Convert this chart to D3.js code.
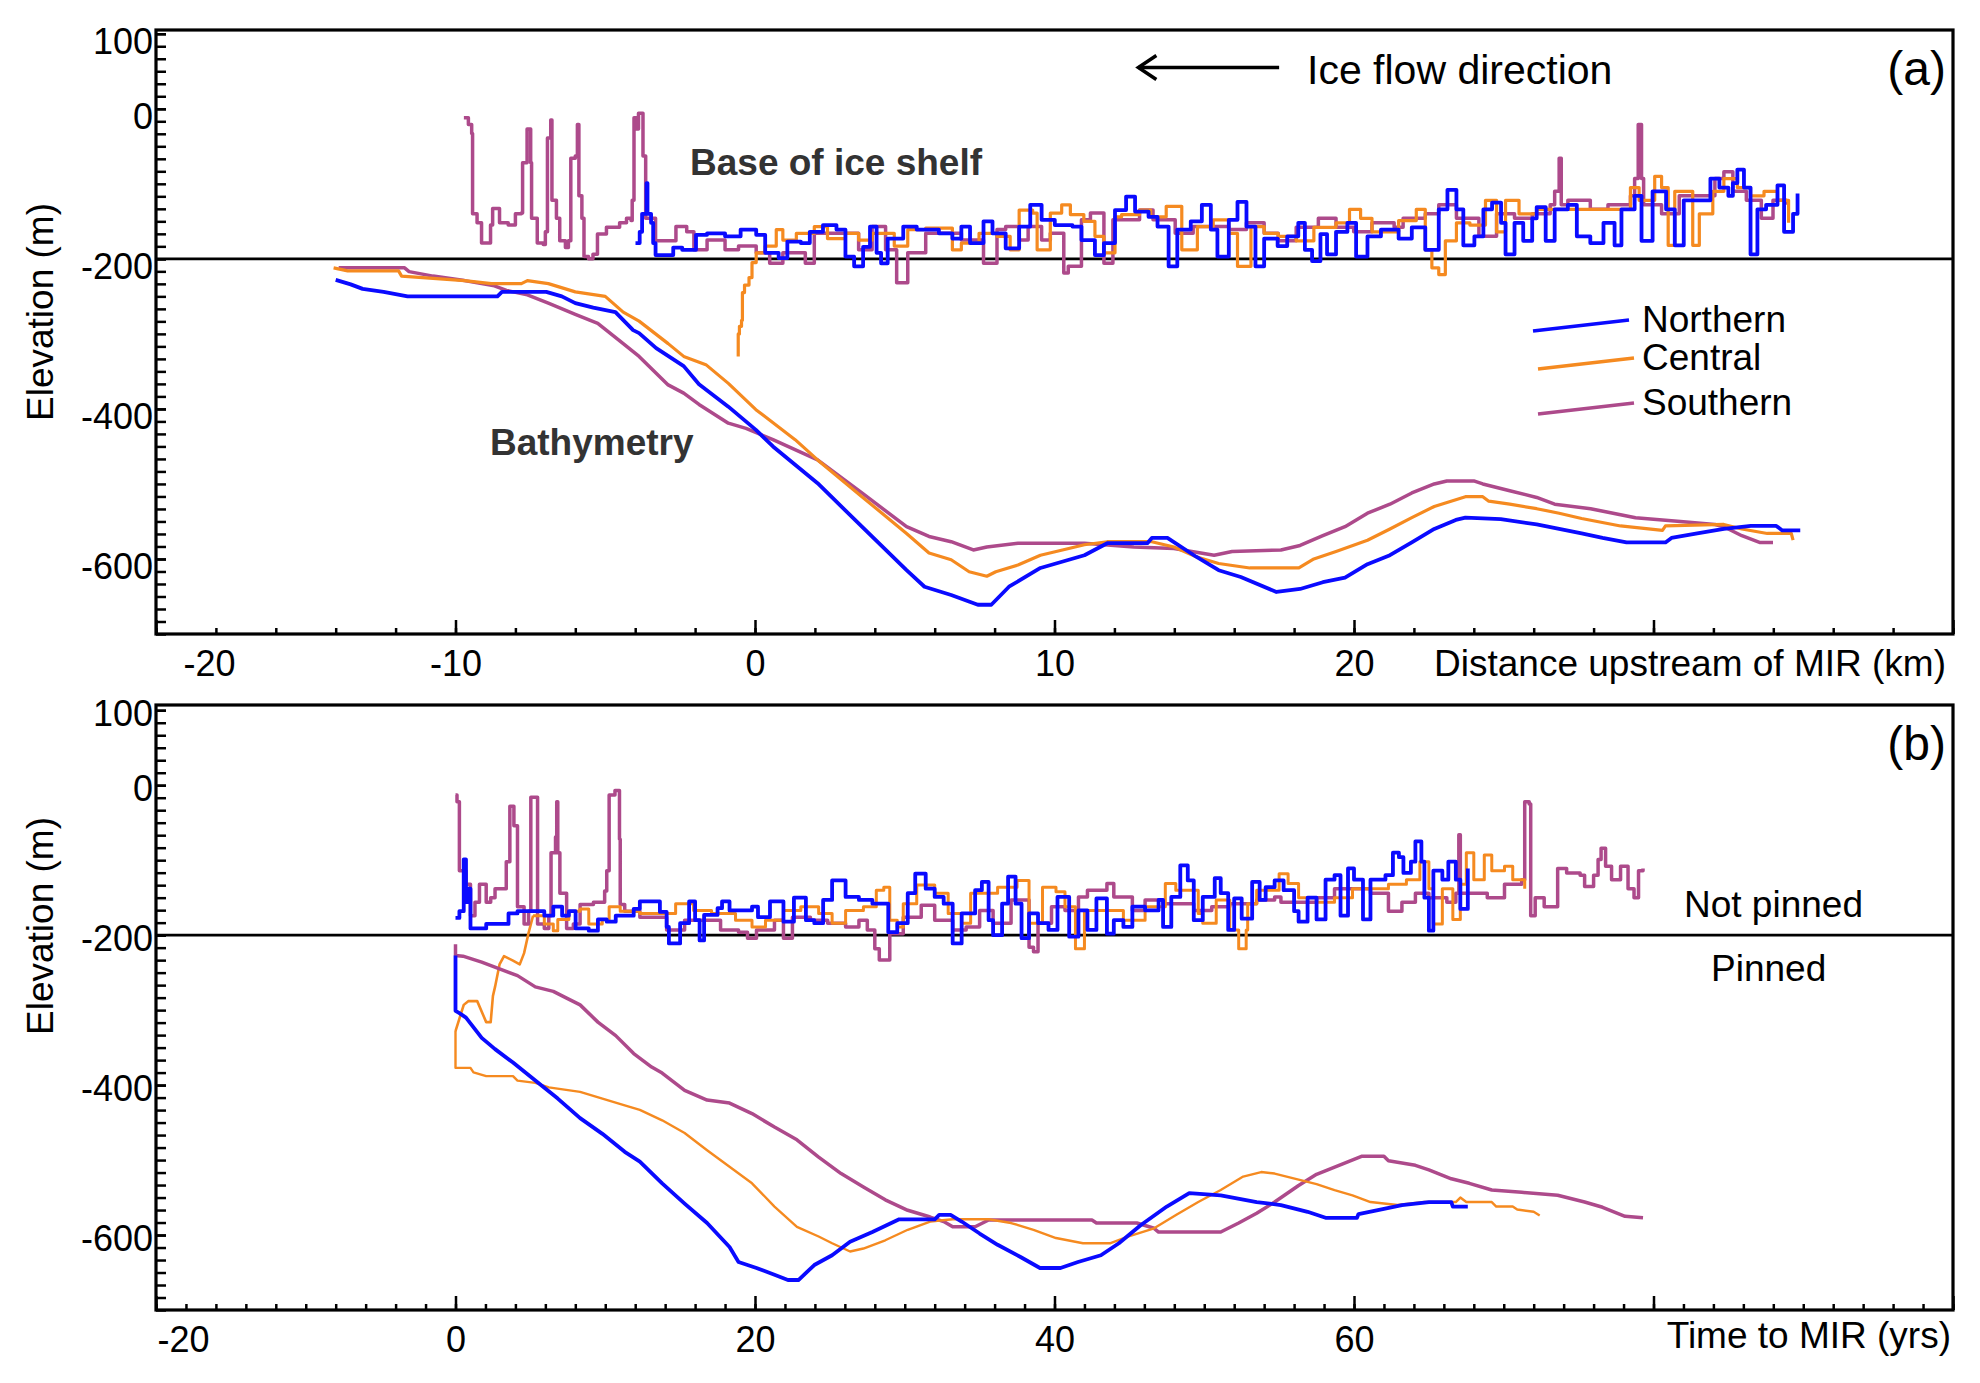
<!DOCTYPE html>
<html>
<head>
<meta charset="utf-8">
<script src="https://cdn.jsdelivr.net/npm/d3@7"></script>
<style>
    body { margin: 0; background: #fff; }
</style>
</head>
<body>
<div id="chart"></div>
<script>

// ---- panel (a): distance upstream of MIR (km) vs elevation (m) ----
var aNorthBed = [[-14.0,-228],[-13.5,-234],[-13.1,-240],[-12.4,-244],[-11.6,-250],[-8.6,-250],[-8.45,-244],[-6.97,-244],[-6.45,-250],[-6.0,-259],[-5.4,-265],[-4.66,-271],[-4.07,-295],[-3.87,-299],[-3.3,-319],[-2.38,-343],[-1.87,-367],[-0.89,-397],[0.03,-428],[0.6,-450],[2.09,-499],[3.57,-557],[5.06,-615],[5.66,-637],[6.55,-648],[7.44,-661],[7.89,-661],[8.48,-637],[9.53,-612],[11.0,-595],[11.76,-579],[13.1,-579],[13.25,-572],[13.77,-572],[14.73,-597],[15.48,-615],[16.22,-624],[17.41,-644],[18.2,-640],[18.96,-631],[19.7,-625],[20.45,-607],[21.2,-595],[21.93,-578],[22.68,-560],[23.4,-548],[23.72,-545],[24.9,-547],[26.1,-554],[26.85,-560],[27.6,-566],[28.3,-572],[29.1,-578],[30.4,-578],[30.6,-572],[31.46,-566],[32.35,-560],[33.25,-556],[34.1,-556],[34.3,-562],[34.9,-562]];
var aCentralBed = [[-14.07,-212],[-13.6,-216],[-11.9,-216],[-11.8,-223],[-9.7,-229],[-8.8,-233],[-7.8,-233],[-7.6,-229],[-6.9,-233],[-6.0,-244],[-5.0,-250],[-4.4,-271],[-3.87,-283],[-2.9,-313],[-2.38,-330],[-1.64,-341],[-0.89,-366],[0.03,-401],[1.34,-441],[2.09,-468],[3.57,-517],[5.06,-566],[5.81,-592],[6.55,-601],[7.15,-617],[7.74,-623],[8.04,-617],[8.78,-608],[9.53,-595],[11.0,-581],[11.76,-577],[13.25,-577],[13.99,-584],[14.73,-597],[15.48,-606],[16.52,-612],[18.16,-612],[18.66,-600],[19.4,-590],[20.45,-575],[21.2,-560],[21.93,-545],[22.68,-530],[23.4,-521],[23.72,-517],[24.3,-517],[24.5,-523],[25.2,-527],[26.1,-533],[26.85,-539],[27.6,-546],[28.9,-556],[30.3,-562],[30.4,-556],[32.35,-554],[32.95,-560],[33.8,-566],[34.6,-566],[34.66,-575]];
var aSouthBed = [[-13.9,-212],[-11.7,-212],[-11.55,-217],[-10.75,-223],[-9.7,-229],[-8.7,-236],[-8.3,-242],[-7.6,-248],[-6.9,-259],[-6.0,-274],[-5.25,-286],[-4.4,-313],[-3.87,-330],[-2.9,-368],[-2.38,-379],[-1.87,-394],[-0.89,-419],[-0.3,-426],[0.6,-441],[2.09,-468],[3.57,-512],[5.06,-557],[5.81,-570],[6.55,-577],[7.29,-588],[7.74,-584],[8.78,-579],[11.0,-579],[12.65,-584],[13.99,-586],[15.33,-595],[15.93,-590],[17.56,-588],[18.2,-582],[18.96,-569],[19.7,-557],[20.45,-539],[21.2,-527],[21.93,-512],[22.68,-500],[23.1,-496],[24.0,-496],[24.3,-500],[25.2,-509],[26.1,-518],[26.7,-527],[27.9,-533],[29.4,-545],[30.9,-550],[32.05,-554],[32.35,-557],[32.95,-569],[33.54,-578],[33.99,-578]];

var aNorthBase = [[-3.99,-179],[-3.85,-164],[-3.77,-140],[-3.62,-99],[-3.59,-140],[-3.47,-152],[-3.4,-179],[-3.32,-195],[-2.88,-195],[-2.73,-185],[-2.43,-188],[-2.12,-188],[-1.97,-168],[-1.6,-166],[-1.0,-170],[-0.48,-161],[0.04,-168],[0.34,-192],[0.79,-199],[1.08,-177],[1.53,-179],[1.83,-164],[2.27,-155],[2.72,-161],[3.02,-197],[3.31,-210],[3.61,-184],[3.84,-157],[4.06,-192],[4.21,-206],[4.43,-173],[4.95,-157],[5.4,-161],[6.14,-166],[6.59,-173],[6.89,-157],[7.18,-179],[7.63,-150],[7.93,-166],[8.37,-186],[8.82,-157],[9.19,-128],[9.57,-148],[10.01,-155],[10.6,-157],[10.9,-175],[11.35,-195],[11.65,-179],[12.02,-135],[12.39,-117],[12.69,-137],[13.14,-144],[13.44,-157],[13.81,-210],[14.1,-161],[14.55,-150],[14.92,-128],[15.22,-161],[15.44,-197],[15.82,-148],[16.11,-124],[16.41,-157],[16.71,-210],[17.0,-173],[17.45,-183],[17.77,-170],[18.14,-152],[18.36,-188],[18.6,-203],[18.88,-167],[19.1,-194],[19.4,-164],[19.78,-152],[20.07,-197],[20.45,-170],[20.9,-161],[21.49,-173],[21.93,-158],[22.38,-188],[22.83,-134],[23.12,-108],[23.42,-134],[23.65,-182],[24.02,-170],[24.32,-134],[24.61,-125],[24.91,-152],[25.06,-194],[25.36,-152],[25.65,-176],[25.95,-146],[26.1,-131],[26.4,-176],[26.7,-134],[27.14,-128],[27.44,-170],[27.89,-179],[28.33,-152],[28.7,-182],[28.93,-134],[29.37,-116],[29.6,-176],[29.97,-110],[30.42,-134],[30.71,-182],[31.01,-122],[31.76,-122],[31.9,-93],[32.2,-105],[32.5,-116],[32.65,-99],[32.8,-81],[33.02,-105],[33.24,-194],[33.47,-134],[33.76,-128],[34.14,-102],[34.36,-164],[34.66,-140],[34.81,-113]];
var aCentralBase = [[-0.56,-330],[-0.56,-300],[-0.52,-290],[-0.45,-282],[-0.42,-245],[-0.35,-235],[-0.2,-225],[-0.1,-205],[0.04,-192],[0.34,-183],[0.71,-161],[0.93,-175],[1.38,-166],[1.98,-157],[2.42,-173],[3.02,-166],[3.46,-175],[3.91,-166],[4.65,-183],[5.1,-161],[5.7,-159],[6.59,-188],[6.89,-179],[7.48,-166],[8.08,-170],[8.52,-188],[8.82,-135],[9.27,-139],[9.42,-188],[9.86,-139],[10.24,-128],[10.53,-141],[10.98,-150],[11.35,-170],[11.65,-192],[12.02,-144],[12.24,-141],[12.84,-135],[13.21,-144],[13.73,-130],[14.1,-130],[14.25,-188],[14.77,-157],[15.3,-148],[15.82,-166],[16.11,-210],[16.56,-157],[17.0,-166],[17.47,-170],[18.07,-176],[18.66,-158],[19.4,-152],[19.85,-134],[20.22,-146],[20.6,-164],[21.19,-164],[21.49,-149],[22.08,-134],[22.38,-188],[22.6,-212],[22.83,-221],[23.05,-176],[23.42,-152],[23.87,-155],[24.39,-122],[24.76,-164],[25.06,-122],[25.51,-140],[26.1,-134],[27.29,-134],[28.78,-134],[29.23,-105],[29.52,-122],[30.04,-90],[30.27,-105],[30.49,-182],[30.71,-110],[31.31,-182],[31.53,-140],[31.98,-110],[32.35,-93],[32.8,-105],[33.24,-116],[33.69,-110],[34.14,-122],[34.51,-152]];
var aSouthBase = [[-9.72,-12],[-9.57,-21],[-9.46,-33],[-9.43,-140],[-9.28,-152],[-9.13,-179],[-9.0,-179],[-8.83,-155],[-8.76,-133],[-8.56,-133],[-8.53,-152],[-8.24,-155],[-8.0,-140],[-7.8,-139],[-7.76,-72],[-7.61,-27],[-7.49,-72],[-7.46,-146],[-7.27,-179],[-7.07,-181],[-7.0,-164],[-6.93,-39],[-6.82,-15],[-6.78,-122],[-6.63,-146],[-6.52,-176],[-6.33,-185],[-6.23,-176],[-6.15,-66],[-6.0,-63],[-5.93,-21],[-5.88,-116],[-5.78,-146],[-5.71,-197],[-5.56,-200],[-5.41,-194],[-5.26,-167],[-4.96,-158],[-4.52,-152],[-4.29,-146],[-4.14,-149],[-4.1,-122],[-4.04,-12],[-3.95,-27],[-3.89,-6],[-3.74,-63],[-3.65,-146],[-3.32,-176],[-3.03,-176],[-2.64,-157],[-2.28,-164],[-2.04,-188],[-1.6,-175],[-1.0,-188],[-0.55,-183],[0.04,-192],[0.49,-206],[0.93,-192],[1.68,-206],[1.98,-166],[2.72,-166],[3.46,-188],[3.91,-157],[4.36,-188],[4.73,-232],[5.03,-232],[5.1,-192],[5.7,-166],[6.89,-175],[7.63,-206],[8.08,-161],[8.37,-157],[8.82,-175],[9.12,-157],[9.57,-175],[9.86,-166],[10.31,-219],[10.46,-210],[10.9,-148],[11.2,-139],[11.65,-206],[11.95,-148],[12.84,-135],[13.29,-148],[14.03,-166],[14.63,-157],[15.82,-161],[16.41,-152],[17.0,-166],[17.47,-176],[18.07,-158],[18.81,-146],[19.4,-158],[19.99,-164],[20.6,-152],[21.34,-158],[21.64,-146],[22.38,-140],[22.83,-128],[23.42,-146],[24.17,-170],[24.76,-140],[25.36,-146],[25.95,-140],[26.55,-128],[26.7,-110],[26.85,-66],[26.92,-128],[27.14,-122],[27.89,-134],[28.48,-128],[29.23,-116],[29.37,-93],[29.49,-21],[29.6,-93],[29.67,-128],[30.27,-140],[30.86,-116],[31.46,-116],[32.05,-93],[32.35,-84],[32.65,-110],[33.1,-122],[33.6,-146],[33.99,-122],[34.44,-128]];

// ---- panel (b): time to MIR (yrs) vs elevation (m) ----
var bNorthBed = [[0,-227],[0,-301],[0.26,-304],[0.7,-310],[1.75,-337],[2.64,-352],[3.84,-370],[5.33,-394],[6.83,-418],[8.32,-444],[9.81,-465],[11.3,-489],[12.31,-502],[13.8,-531],[15.3,-558],[16.8,-584],[18.3,-616],[18.9,-636],[20.1,-644],[21.3,-653],[22.2,-660],[22.9,-660],[23.96,-640],[25.15,-627],[26.35,-609],[27.84,-596],[29.63,-579],[32.0,-579],[32.3,-573],[33.06,-573],[33.8,-582],[35.0,-598],[36.2,-613],[37.7,-629],[39.03,-644],[40.4,-644],[41.57,-636],[43.1,-627],[44.3,-611],[45.75,-587],[47.5,-562],[49.0,-544],[51.1,-547],[53.5,-556],[55.12,-560],[56.9,-569],[58.1,-577],[60.2,-577],[60.3,-572],[62.0,-565],[63.2,-560],[65.0,-556],[66.5,-556],[66.6,-562],[67.6,-562]];
var bCentralBed = [[0,-328],[0,-377],[1.0,-377],[1.2,-383],[2.05,-388],[3.84,-388],[4.14,-394],[5.33,-397],[6.23,-403],[8.32,-409],[9.81,-418],[11.3,-427],[12.31,-433],[13.8,-447],[15.3,-464],[16.8,-487],[18.3,-509],[19.8,-531],[21.3,-562],[22.8,-589],[24.25,-602],[25.15,-611],[26.35,-622],[27.24,-618],[28.7,-607],[30.2,-593],[31.7,-582],[33.2,-579],[35.6,-579],[37.1,-584],[38.6,-593],[40.1,-604],[41.9,-611],[43.7,-611],[44.9,-602],[46.65,-591],[48.14,-573],[49.6,-556],[51.1,-540],[52.6,-522],[53.8,-516],[54.7,-518],[56.3,-526],[57.5,-532],[58.7,-540],[59.9,-547],[61.1,-556],[62.9,-560],[64.7,-556],[66.8,-556],[67.1,-550],[67.5,-556],[69.2,-556],[69.5,-562],[70.6,-562],[70.9,-566],[72.0,-569],[72.4,-574]];
var bSouthBed = [[0,-212],[0,-227],[0.5,-228],[1.75,-236],[2.94,-245],[4.14,-254],[5.33,-269],[6.53,-275],[7.42,-284],[8.32,-293],[9.51,-316],[10.7,-334],[11.9,-358],[13.1,-376],[13.8,-384],[15.3,-407],[16.8,-420],[18.3,-424],[19.8,-438],[21.3,-456],[22.8,-473],[24.25,-496],[25.75,-518],[27.24,-536],[28.7,-553],[30.2,-567],[31.7,-576],[32.6,-582],[33.2,-589],[34.7,-589],[35.6,-580],[42.5,-580],[42.8,-584],[45.5,-584],[46.65,-591],[46.95,-596],[51.1,-596],[52.3,-584],[53.5,-571],[54.7,-556],[56.3,-534],[57.5,-519],[59.0,-507],[60.5,-495],[62.0,-495],[62.3,-501],[64.1,-507],[65.0,-513],[66.5,-525],[67.7,-531],[69.2,-540],[71.2,-543],[73.6,-547],[75.4,-556],[76.6,-563],[78.1,-575],[79.3,-577]];

var bNorthBase = [[0,-177],[0.26,-168],[0.55,-99],[0.7,-156],[0.85,-138],[1.0,-191],[1.9,-191],[2.05,-185],[2.94,-185],[3.54,-171],[4.14,-168],[5.93,-174],[6.53,-162],[7.12,-174],[7.57,-168],[8.02,-191],[8.9,-194],[9.51,-179],[10.1,-182],[10.7,-174],[11.9,-165],[12.31,-155],[13.2,-155],[13.65,-169],[14.1,-189],[14.25,-211],[14.85,-211],[15.0,-184],[15.6,-155],[16.0,-180],[16.3,-207],[16.6,-173],[17.5,-164],[17.8,-155],[18.3,-167],[19.8,-162],[20.2,-176],[21.0,-155],[21.9,-182],[22.6,-150],[23.4,-180],[23.96,-184],[24.55,-153],[25.15,-127],[26.05,-149],[26.94,-153],[27.84,-158],[28.9,-196],[29.5,-184],[30.2,-144],[30.7,-118],[31.4,-138],[32.0,-149],[32.6,-158],[33.2,-211],[33.8,-171],[34.7,-140],[35.15,-129],[35.6,-180],[35.9,-200],[36.5,-158],[36.9,-122],[37.4,-158],[37.8,-204],[38.3,-171],[38.9,-184],[39.6,-193],[40.2,-149],[40.98,-202],[41.6,-167],[42.2,-193],[42.8,-151],[43.5,-198],[43.96,-180],[44.6,-189],[45.2,-162],[46.05,-167],[46.95,-153],[47.25,-189],[47.8,-149],[48.4,-107],[48.9,-127],[49.3,-180],[49.9,-149],[50.7,-124],[51.1,-144],[51.6,-193],[52.0,-151],[52.5,-178],[53.2,-129],[53.7,-153],[54.1,-136],[54.7,-127],[55.3,-140],[56.0,-168],[56.3,-182],[56.9,-150],[57.5,-179],[58.1,-126],[58.7,-120],[59.1,-174],[59.6,-111],[60.0,-126],[60.6,-179],[61.1,-126],[62.1,-120],[62.6,-90],[63.0,-96],[63.3,-117],[63.8,-102],[64.1,-75],[64.5,-102],[64.7,-150],[65.0,-194],[65.3,-114],[65.9,-126],[66.3,-102],[66.8,-126],[67.1,-165],[67.6,-111]];
// central line rising smoothly from the bed to the ice base in the first years
var bCentralRise = [[0,-328],[0.55,-293],[0.85,-288],[1.45,-288],[2.05,-316],[2.35,-316],[2.5,-281],[2.64,-269],[2.94,-239],[3.24,-228],[3.84,-234],[4.29,-239],[4.58,-224],[4.88,-197],[5.18,-174]];
var bCentralBase = [[5.18,-174],[5.93,-185],[6.53,-194],[6.83,-179],[7.57,-168],[8.32,-165],[8.9,-185],[9.8,-179],[10.26,-162],[11.0,-168],[12.31,-171],[14.7,-158],[15.9,-167],[17.1,-171],[18.7,-180],[19.8,-189],[20.7,-180],[21.9,-167],[23.06,-162],[24.25,-171],[25.15,-184],[26.05,-167],[27.24,-162],[28.1,-140],[28.6,-136],[29.0,-180],[29.5,-189],[29.9,-158],[30.8,-133],[32.0,-144],[32.9,-171],[33.8,-184],[34.4,-144],[36.2,-136],[37.5,-127],[38.3,-184],[39.2,-136],[40.1,-142],[40.7,-162],[41.4,-218],[42.0,-167],[43.4,-167],[44.6,-180],[46.05,-162],[47.4,-131],[48.1,-140],[49.6,-171],[49.9,-184],[50.8,-153],[51.7,-193],[52.3,-218],[52.8,-193],[52.9,-158],[53.5,-140],[55.0,-118],[55.6,-131],[56.3,-150],[57.5,-156],[58.7,-150],[59.9,-138],[62.3,-132],[63.5,-126],[64.4,-102],[65.0,-138],[65.3,-185],[65.9,-138],[66.6,-179],[67.1,-132],[67.5,-90],[68.0,-126],[68.7,-93],[69.2,-114],[70.05,-108],[70.6,-126],[71.4,-138]];
var bSouthBase = [[0,-13],[0.1,-22],[0.26,-114],[0.7,-132],[1.0,-174],[1.3,-156],[1.6,-132],[2.05,-156],[2.35,-150],[2.64,-138],[3.3,-138],[3.39,-102],[3.63,-28],[3.9,-54],[4.14,-162],[4.58,-185],[4.88,-168],[5.03,-16],[5.33,-16],[5.48,-185],[5.93,-191],[6.23,-174],[6.38,-90],[6.68,-69],[6.76,-22],[6.83,-90],[6.97,-144],[7.42,-191],[7.87,-185],[8.32,-159],[9.21,-156],[9.96,-141],[10.1,-114],[10.26,-13],[10.65,-7],[10.95,-72],[11.0,-159],[11.3,-168],[12.2,-168],[12.31,-176],[14.1,-193],[15.3,-180],[16.8,-180],[17.7,-193],[18.9,-196],[19.5,-204],[20.1,-193],[21.3,-180],[21.9,-204],[22.5,-176],[23.7,-180],[24.85,-184],[26.05,-189],[26.94,-180],[27.5,-193],[28.0,-218],[28.3,-233],[28.7,-233],[29.0,-198],[29.9,-176],[31.1,-160],[32.0,-180],[33.2,-193],[34.1,-189],[35.0,-167],[35.9,-184],[37.1,-153],[38.3,-216],[38.6,-222],[38.9,-184],[39.8,-162],[40.7,-167],[41.6,-149],[42.2,-140],[43.5,-131],[43.96,-149],[45.2,-167],[46.05,-153],[47.25,-158],[49.3,-167],[50.5,-162],[51.7,-158],[53.5,-153],[54.7,-149],[55.12,-156],[57.5,-150],[58.7,-138],[61.1,-144],[62.3,-168],[63.2,-156],[64.1,-144],[65.0,-150],[66.2,-156],[66.8,-144],[67.0,-66],[67.1,-144],[68.9,-150],[70.05,-132],[71.2,-126],[71.4,-22],[71.7,-25],[71.8,-174],[72.1,-150],[72.7,-162],[73.4,-162],[73.6,-111],[74.2,-117],[75.1,-120],[75.4,-135],[76.0,-120],[76.3,-99],[76.5,-84],[76.8,-108],[77.2,-126],[77.8,-108],[78.3,-138],[78.7,-150],[79.0,-114],[79.3,-111]];

// ---- axes / legend ----
var yLabels = [100, 0, -200, -400, -600];
var xLabelsA = [-20, -10, 0, 10, 20];
var xLabelsB = [-20, 0, 20, 40, 60];
var seriesNames = ["Northern", "Central", "Southern"];
var seriesColors = ["#0a0aff", "#f58a20", "#ad4a8b"];

function createChart() {

    var width = 1980;
    var height = 1383;
    var font = "'Liberation Sans', Arial, Helvetica, sans-serif";

    var left = 156, right = 1953;

    var svg = d3.select("#chart").append("svg")
        .attr("width", width)
        .attr("height", height)
        .style("font-family", font)
        .style("background", "#fff");

    var panelA = {
        top: 30, bottom: 634, titleY: 312,
        x: d3.scaleLinear().domain([-20, 40]).range([left, right]),
        y: d3.scaleLinear().domain([-700, 105]).range([634, 30]),
        majors: d3.range(-20, 41, 10), minors: d3.range(-20, 41, 2),
        labels: xLabelsA, firstShift: 53, yDy: 20,
        bed: [aNorthBed, aCentralBed, aSouthBed],
        base: [aNorthBase, aCentralBase, aSouthBase],
        rise: [],
        widths: [3.8, 3.2, 3.5], bedWidths: [3.8, 3.2, 3.5]
    };
    var panelB = {
        top: 705, bottom: 1310, titleY: 926,
        x: d3.scaleLinear().domain([-20, 100]).range([left, right]),
        y: d3.scaleLinear().domain([-700, 107]).range([1310, 705]),
        majors: d3.range(-20, 101, 20), minors: d3.range(-20, 101, 2),
        labels: xLabelsB, firstShift: 27, yDy: 15,
        bed: [bNorthBed, bCentralBed, bSouthBed],
        base: [bNorthBase, bCentralBase, bSouthBase],
        rise: [bCentralRise],
        widths: [3.8, 3.0, 3.5], bedWidths: [3.8, 2.4, 3.5]
    };

    var yMinor = d3.range(0, 49).map(function(k) { return -700 + k * 50 / 3; });

    [panelA, panelB].forEach(function(p) {

        var g = svg.append("g");

        // minor x ticks
        g.append("g")
            .attr("transform", "translate(0," + p.bottom + ")")
            .call(d3.axisBottom(p.x).tickValues(p.minors).tickSizeInner(-6).tickSizeOuter(0).tickFormat(""))
            .call(function(s) { s.select(".domain").remove(); })
            .selectAll("line").attr("stroke-width", 2.5);

        // major x ticks with labels
        var xa = g.append("g")
            .attr("transform", "translate(0," + p.bottom + ")")
            .call(d3.axisBottom(p.x).tickValues(p.majors).tickSizeInner(-14).tickSizeOuter(0).tickPadding(16)
                .tickFormat(function(d) { return p.labels.indexOf(d) >= 0 ? String(d) : ""; }))
            .call(function(s) { s.select(".domain").remove(); });
        xa.selectAll("line").attr("stroke-width", 2.5);
        xa.selectAll("text")
            .attr("font-family", font)
            .attr("font-size", 36)
            .attr("fill", "#000")
            .filter(function(d) { return d === p.labels[0]; })
            .attr("x", p.firstShift);

        // y ticks
        g.append("g")
            .attr("transform", "translate(" + left + ",0)")
            .call(d3.axisLeft(p.y).tickValues(yMinor).tickSizeInner(-10).tickSizeOuter(0).tickFormat(""))
            .call(function(s) { s.select(".domain").remove(); })
            .selectAll("line").attr("stroke-width", 2.5);

        var ya = g.append("g")
            .attr("transform", "translate(" + left + ",0)")
            .call(d3.axisLeft(p.y).tickValues(yLabels).tickSizeInner(-10).tickSizeOuter(0).tickPadding(3)
                .tickFormat(function(d) { return String(d); }))
            .call(function(s) { s.select(".domain").remove(); });
        ya.selectAll("line").attr("stroke-width", 2.5);
        ya.selectAll("text")
            .attr("font-family", font)
            .attr("font-size", 36)
            .attr("fill", "#000")
            .attr("dy", p.yDy);

        // frame
        g.append("rect")
            .attr("x", left)
            .attr("y", p.top)
            .attr("width", right - left)
            .attr("height", p.bottom - p.top)
            .attr("fill", "none")
            .attr("stroke", "#000")
            .attr("stroke-width", 3.2);

        // -200 m reference line
        g.append("line")
            .attr("x1", left)
            .attr("x2", right)
            .attr("y1", p.y(-200))
            .attr("y2", p.y(-200))
            .attr("stroke", "#000")
            .attr("stroke-width", 2.8);

        var bedLine = d3.line()
            .x(function(d) { return p.x(d[0]); })
            .y(function(d) { return p.y(d[1]); });

        var baseLine = d3.line()
            .x(function(d) { return p.x(d[0]); })
            .y(function(d) { return p.y(d[1]); })
            .curve(d3.curveStepAfter);

        p.rise.forEach(function(r) {
            g.append("path")
                .attr("d", bedLine(r))
                .attr("fill", "none")
                .attr("stroke", seriesColors[1])
                .attr("stroke-width", 2.6)
                .attr("stroke-linejoin", "round");
        });

        // southern first, northern on top
        [2, 1, 0].forEach(function(i) {
            g.append("path")
                .attr("d", bedLine(p.bed[i]))
                .attr("fill", "none")
                .attr("stroke", seriesColors[i])
                .attr("stroke-width", p.bedWidths[i])
                .attr("stroke-linejoin", "round");
            g.append("path")
                .attr("d", baseLine(p.base[i]))
                .attr("fill", "none")
                .attr("stroke", seriesColors[i])
                .attr("stroke-width", p.widths[i])
                .attr("stroke-linejoin", "round");
        });

        // y title
        svg.append("text")
            .attr("transform", "translate(53," + p.titleY + ") rotate(-90)")
            .attr("text-anchor", "middle")
            .attr("font-size", 37)
            .text("Elevation (m)");
    });

    // x titles
    svg.append("text")
        .attr("x", 1946)
        .attr("y", 676)
        .attr("text-anchor", "end")
        .attr("font-size", 37)
        .text("Distance upstream of MIR (km)");

    svg.append("text")
        .attr("x", 1951)
        .attr("y", 1348)
        .attr("text-anchor", "end")
        .attr("font-size", 37)
        .text("Time to MIR (yrs)");

    // panel letters
    svg.append("text")
        .attr("x", 1946)
        .attr("y", 85)
        .attr("text-anchor", "end")
        .attr("font-size", 48)
        .text("(a)");

    svg.append("text")
        .attr("x", 1946)
        .attr("y", 760)
        .attr("text-anchor", "end")
        .attr("font-size", 48)
        .text("(b)");

    // ice flow arrow
    var xs = panelA.x, ys = panelA.y;
    svg.append("line")
        .attr("x1", xs(17.5))
        .attr("x2", xs(12.8))
        .attr("y1", ys(55))
        .attr("y2", ys(55))
        .attr("stroke", "#000")
        .attr("stroke-width", 3.5);
    svg.append("path")
        .attr("d", "M" + (xs(12.8) + 18) + "," + (ys(55) - 12) + "L" + xs(12.8) + "," + ys(55) + "L" + (xs(12.8) + 18) + "," + (ys(55) + 12))
        .attr("fill", "none")
        .attr("stroke", "#000")
        .attr("stroke-width", 3.5);
    svg.append("text")
        .attr("x", 1307)
        .attr("y", 84)
        .attr("font-size", 41)
        .text("Ice flow direction");

    svg.append("text")
        .attr("x", 690)
        .attr("y", 175)
        .attr("font-size", 37)
        .attr("font-weight", "bold")
        .attr("fill", "#333")
        .text("Base of ice shelf");

    svg.append("text")
        .attr("x", 490)
        .attr("y", 455)
        .attr("font-size", 37)
        .attr("font-weight", "bold")
        .attr("fill", "#333")
        .text("Bathymetry");

    // legend (slanted sample lines as in the original)
    var legendY = [332, 370, 415];
    seriesNames.forEach(function(name, i) {
        var x0 = i === 0 ? 1533 : 1538;
        svg.append("line")
            .attr("x1", x0)
            .attr("x2", x0 + 96)
            .attr("y1", legendY[i] - 1)
            .attr("y2", legendY[i] - 12)
            .attr("stroke", seriesColors[i])
            .attr("stroke-width", 3.5);
        svg.append("text")
            .attr("x", 1642)
            .attr("y", legendY[i])
            .attr("font-size", 37)
            .text(name);
    });

    // pinned annotation
    svg.append("text")
        .attr("x", 1684)
        .attr("y", 917)
        .attr("font-size", 37)
        .text("Not pinned");
    svg.append("text")
        .attr("x", 1711)
        .attr("y", 981)
        .attr("font-size", 37)
        .text("Pinned");
}

createChart();
</script>
</body>
</html>
